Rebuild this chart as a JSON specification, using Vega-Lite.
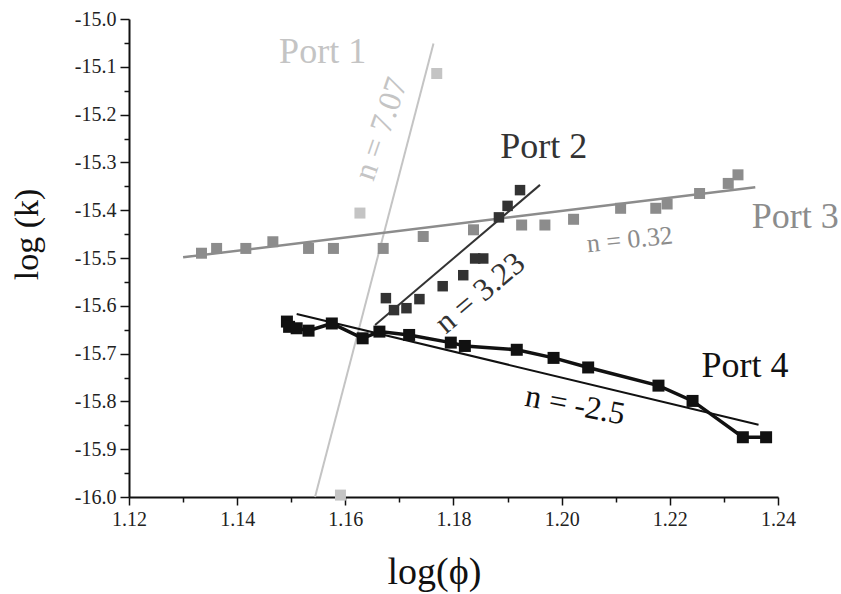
{
  "$schema": "https://vega.github.io/schema/vega-lite/v6.json",
  "width": 649,
  "height": 478,
  "autosize": {"type": "none"},
  "padding": {"left": 129, "top": 19, "right": 63, "bottom": 97},
  "background": "white",
  "config": {"view": {"stroke": null}, "font": "Liberation Serif", "axis": {"labelFont": "Liberation Serif", "titleFont": "Liberation Serif"}},
  "datasets": {
    "fits": [
      {"port": "Port 1", "x": 1.1544, "y": -16.0},
      {"port": "Port 1", "x": 1.1763, "y": -15.051},
      {"port": "Port 3", "x": 1.1300, "y": -15.4986},
      {"port": "Port 3", "x": 1.2358, "y": -15.352},
      {"port": "Port 2", "x": 1.1655, "y": -15.640},
      {"port": "Port 2", "x": 1.1960, "y": -15.347},
      {"port": "Port 4", "x": 1.1510, "y": -15.617},
      {"port": "Port 4", "x": 1.2364, "y": -15.849}
    ],
    "port1": [
      {"port": "Port 1", "x": 1.1627, "y": -15.406},
      {"port": "Port 1", "x": 1.1769, "y": -15.114},
      {"port": "Port 1", "x": 1.1591, "y": -15.996}
    ],
    "port3": [
      {"port": "Port 3", "x": 1.1334, "y": -15.490},
      {"port": "Port 3", "x": 1.1362, "y": -15.480},
      {"port": "Port 3", "x": 1.1416, "y": -15.480},
      {"port": "Port 3", "x": 1.1466, "y": -15.466},
      {"port": "Port 3", "x": 1.1532, "y": -15.480},
      {"port": "Port 3", "x": 1.1578, "y": -15.480},
      {"port": "Port 3", "x": 1.1670, "y": -15.480},
      {"port": "Port 3", "x": 1.1744, "y": -15.455},
      {"port": "Port 3", "x": 1.1837, "y": -15.441},
      {"port": "Port 3", "x": 1.1926, "y": -15.431},
      {"port": "Port 3", "x": 1.1969, "y": -15.431},
      {"port": "Port 3", "x": 1.2022, "y": -15.419},
      {"port": "Port 3", "x": 1.2109, "y": -15.396},
      {"port": "Port 3", "x": 1.2174, "y": -15.396},
      {"port": "Port 3", "x": 1.2195, "y": -15.387},
      {"port": "Port 3", "x": 1.2255, "y": -15.365},
      {"port": "Port 3", "x": 1.2308, "y": -15.344},
      {"port": "Port 3", "x": 1.2326, "y": -15.326}
    ],
    "port2": [
      {"port": "Port 2", "x": 1.1675, "y": -15.584},
      {"port": "Port 2", "x": 1.1690, "y": -15.609},
      {"port": "Port 2", "x": 1.1713, "y": -15.605},
      {"port": "Port 2", "x": 1.1737, "y": -15.586},
      {"port": "Port 2", "x": 1.1780, "y": -15.559},
      {"port": "Port 2", "x": 1.1818, "y": -15.536},
      {"port": "Port 2", "x": 1.1840, "y": -15.501},
      {"port": "Port 2", "x": 1.1855, "y": -15.501},
      {"port": "Port 2", "x": 1.1884, "y": -15.415},
      {"port": "Port 2", "x": 1.1900, "y": -15.391},
      {"port": "Port 2", "x": 1.1923, "y": -15.358}
    ],
    "port4": [
      {"port": "Port 4", "x": 1.1492, "y": -15.633},
      {"port": "Port 4", "x": 1.1496, "y": -15.644},
      {"port": "Port 4", "x": 1.1510, "y": -15.647},
      {"port": "Port 4", "x": 1.1532, "y": -15.652},
      {"port": "Port 4", "x": 1.1575, "y": -15.637},
      {"port": "Port 4", "x": 1.1632, "y": -15.668},
      {"port": "Port 4", "x": 1.1663, "y": -15.654},
      {"port": "Port 4", "x": 1.1718, "y": -15.661},
      {"port": "Port 4", "x": 1.1795, "y": -15.677},
      {"port": "Port 4", "x": 1.1821, "y": -15.684},
      {"port": "Port 4", "x": 1.1917, "y": -15.692},
      {"port": "Port 4", "x": 1.1985, "y": -15.709},
      {"port": "Port 4", "x": 1.2049, "y": -15.729},
      {"port": "Port 4", "x": 1.2179, "y": -15.767},
      {"port": "Port 4", "x": 1.2242, "y": -15.799},
      {"port": "Port 4", "x": 1.2335, "y": -15.875},
      {"port": "Port 4", "x": 1.2378, "y": -15.875}
    ],
    "labels": [
      {"port": "Port 1", "label": "Port 1", "x": 1.1558, "y": -15.092},
      {"port": "Port 2", "label": "Port 2", "x": 1.1967, "y": -15.291},
      {"port": "Port 3", "label": "Port 3", "x": 1.2432, "y": -15.437},
      {"port": "Port 4", "label": "Port 4", "x": 1.2339, "y": -15.749}
    ],
    "n1": [{"port": "Port 1", "label": "n = 7.07", "x": 1.1666, "y": -15.230}],
    "n2": [{"port": "Port 2", "label": "n = 3.23", "x": 1.1849, "y": -15.573}],
    "n3": [{"port": "Port 3", "label": "n = 0.32", "x": 1.2126, "y": -15.462}],
    "n4": [{"port": "Port 4", "label": "n = -2.5", "x": 1.2025, "y": -15.808}]
  },
  "encoding": {
    "x": {
      "field": "x", "type": "quantitative",
      "scale": {"domain": [1.12, 1.24], "nice": false, "zero": false},
      "axis": {
        "title": "log(ϕ)",
        "values": [1.12, 1.13, 1.14, 1.15, 1.16, 1.17, 1.18, 1.19, 1.20, 1.21, 1.22, 1.23, 1.24],
        "labelExpr": "round(datum.value*100) % 2 == 0 ? format(datum.value, '.2f') : ''",
        "labelFont": "Liberation Serif", "labelFontSize": 20, "labelColor": "#222",
        "labelPadding": 4, "labelOverlap": false, "labelFlush": false,
        "tickSize": {"condition": {"test": "round(datum.value*100) % 2 == 0", "value": 8}, "value": 5},
        "tickColor": "#111", "tickWidth": 1.5,
        "domainColor": "#111", "domainWidth": 2,
        "grid": false,
        "titleFont": "Liberation Serif", "titleFontSize": 38, "titleFontWeight": "normal", "titleColor": "#111",
        "titleX": 305, "titleY": 86, "titleBaseline": "alphabetic", "titleAlign": "center"
      }
    },
    "y": {
      "field": "y", "type": "quantitative",
      "scale": {"domain": [-16.0, -15.0], "nice": false, "zero": false},
      "axis": {
        "title": "log (k)",
        "values": [-16.0, -15.95, -15.9, -15.85, -15.8, -15.75, -15.7, -15.65, -15.6, -15.55, -15.5, -15.45, -15.4, -15.35, -15.3, -15.25, -15.2, -15.15, -15.1, -15.05, -15.0],
        "labelExpr": "round(datum.value*100) % 10 == 0 ? '-' + format(abs(datum.value), '.1f') : ''",
        "labelFont": "Liberation Serif", "labelFontSize": 20, "labelColor": "#222",
        "labelPadding": 4, "labelOverlap": false, "labelFlush": false,
        "tickSize": {"condition": {"test": "round(datum.value*100) % 10 == 0", "value": 9}, "value": 5},
        "tickColor": "#111", "tickWidth": 1.5,
        "domainColor": "#111", "domainWidth": 2,
        "grid": false,
        "titleFont": "Liberation Serif", "titleFontSize": 34, "titleFontWeight": "normal", "titleColor": "#111",
        "titleAngle": -90, "titleX": -92, "titleY": 215, "titleBaseline": "alphabetic", "titleAlign": "center"
      }
    },
    "color": {
      "field": "port", "type": "nominal",
      "scale": {"domain": ["Port 1", "Port 2", "Port 3", "Port 4"], "range": ["#c4c4c4", "#333333", "#8c8c8c", "#111111"]},
      "legend": null
    }
  },
  "layer": [
    {"data": {"name": "fits"}, "transform": [{"filter": "datum.port == 'Port 1'"}], "mark": {"type": "line", "strokeWidth": 2}},
    {"data": {"name": "fits"}, "transform": [{"filter": "datum.port == 'Port 3'"}], "mark": {"type": "line", "strokeWidth": 2.5}},
    {"data": {"name": "port3"}, "mark": {"type": "square", "size": 121, "opacity": 1, "filled": true}},
    {"data": {"name": "port1"}, "mark": {"type": "square", "size": 121, "opacity": 1, "filled": true}},
    {"data": {"name": "fits"}, "transform": [{"filter": "datum.port == 'Port 2'"}], "mark": {"type": "line", "strokeWidth": 2}},
    {"data": {"name": "port2"}, "mark": {"type": "square", "size": 110, "opacity": 1, "filled": true}},
    {"data": {"name": "fits"}, "transform": [{"filter": "datum.port == 'Port 4'"}], "mark": {"type": "line", "strokeWidth": 2}},
    {"data": {"name": "port4"}, "mark": {"type": "line", "strokeWidth": 3.5}},
    {"data": {"name": "port4"}, "mark": {"type": "square", "size": 144, "opacity": 1, "filled": true}},
    {"data": {"name": "labels"}, "mark": {"type": "text", "font": "Liberation Serif", "fontSize": 36, "align": "center", "baseline": "alphabetic"}, "encoding": {"text": {"field": "label"}}},
    {"data": {"name": "n1"}, "mark": {"type": "text", "font": "Liberation Serif", "fontSize": 32, "align": "center", "baseline": "middle", "angle": -71}, "encoding": {"text": {"field": "label"}}},
    {"data": {"name": "n2"}, "mark": {"type": "text", "font": "Liberation Serif", "fontSize": 32, "align": "center", "baseline": "middle", "angle": -40}, "encoding": {"text": {"field": "label"}}},
    {"data": {"name": "n3"}, "mark": {"type": "text", "font": "Liberation Serif", "fontSize": 26, "align": "center", "baseline": "middle", "angle": -6}, "encoding": {"text": {"field": "label"}}},
    {"data": {"name": "n4"}, "mark": {"type": "text", "font": "Liberation Serif", "fontSize": 32, "align": "center", "baseline": "middle", "angle": 11}, "encoding": {"text": {"field": "label"}}}
  ]
}
